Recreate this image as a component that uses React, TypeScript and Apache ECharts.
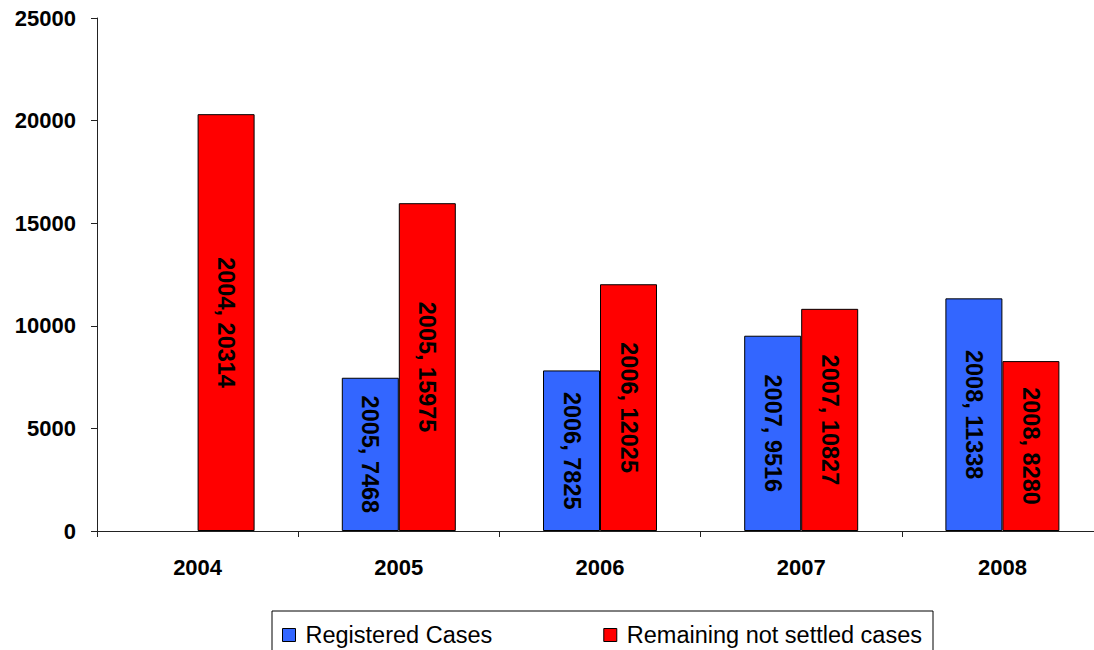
import React, { useEffect, useRef } from "react";
import * as echarts from "echarts";

const categories = ["2004", "2005", "2006", "2007", "2008"];
const registeredCases = [null, 7468, 7825, 9516, 11338];
const remainingCases = [20314, 15975, 12025, 10827, 8280];
const yTicks = { min: 0, max: 25000, interval: 5000 };

const FONT = "'Liberation Sans', Arial, Helvetica, sans-serif";

export default function App() {
  const ref = useRef<HTMLDivElement>(null);
  useEffect(() => {
    if (!ref.current) return;
    const chart = echarts.init(ref.current, undefined, { renderer: "svg" });
    const labelCfg = {
      show: true,
      position: "inside",
      rotate: -90,
      formatter: "{b}, {c}",
      color: "#000",
      fontFamily: FONT,
      fontWeight: "bold",
      fontSize: 23.5,
    };
    chart.setOption({
      animation: false,
      backgroundColor: "#fff",
      grid: {
        left: 97,
        top: 18,
        width: 1006,
        height: 513,
        containLabel: false,
        outerBoundsMode: "none",
      },
      legend: {
        left: 272,
        top: 611,
        orient: "horizontal",
        padding: [12, 11, 30, 10],
        itemGap: 111,
        itemWidth: 13,
        itemHeight: 13,
        borderColor: "#000",
        borderWidth: 1,
        icon: "rect",
        textStyle: {
          fontFamily: FONT,
          fontSize: 23.5,
          color: "#000",
          padding: [0, 0, 0, 5],
        },
        data: [
          { name: "Registered Cases", itemStyle: { color: "#3366FF", borderColor: "#000", borderWidth: 1 } },
          { name: "Remaining not settled cases", itemStyle: { color: "#FF0000", borderColor: "#000", borderWidth: 1 } },
        ],
      },
      xAxis: {
        type: "category",
        data: categories,
        boundaryGap: true,
        axisLine: { lineStyle: { color: "#222", width: 1 } },
        axisTick: { show: true, length: 6, lineStyle: { color: "#222" } },
        axisLabel: {
          color: "#000",
          fontFamily: FONT,
          fontWeight: "bold",
          fontSize: 22,
          margin: 25,
        },
        splitLine: { show: false },
      },
      yAxis: {
        type: "value",
        min: yTicks.min,
        max: yTicks.max,
        interval: yTicks.interval,
        axisLine: { show: true, lineStyle: { color: "#222", width: 1 } },
        axisTick: { show: true, length: 6, lineStyle: { color: "#222" } },
        axisLabel: {
          color: "#000",
          fontFamily: FONT,
          fontWeight: "bold",
          fontSize: 22,
          margin: 21,
          formatter: (v: number) => String(v),
        },
        splitLine: { show: false },
      },
      series: [
        {
          name: "Registered Cases",
          type: "bar",
          data: registeredCases,
          barWidth: 57,
          barGap: "0%",
          itemStyle: { color: "#3366FF", borderColor: "#000", borderWidth: 1 },
          label: labelCfg,
        },
        {
          name: "Remaining not settled cases",
          type: "bar",
          data: remainingCases,
          barWidth: 57,
          barGap: "0%",
          itemStyle: { color: "#FF0000", borderColor: "#000", borderWidth: 1 },
          label: labelCfg,
        },
      ],
    });
    return () => chart.dispose();
  }, []);
  return (
    <div
      ref={ref}
      style={{ position: "absolute", left: 0, top: 0, width: 1094, height: 650 }}
    />
  );
}
